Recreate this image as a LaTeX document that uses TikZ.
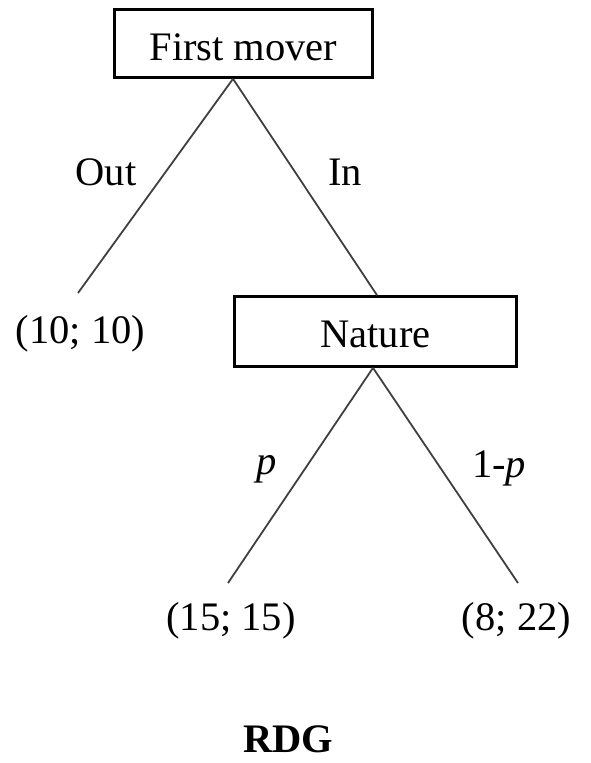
\documentclass[tikz,border=0pt]{standalone}
\usepackage{fontspec}
\setmainfont{Liberation Serif}
\begin{document}
\begin{tikzpicture}[x=1pt,y=-1pt,
  box/.style={draw=black, line width=2.7pt, rectangle, inner sep=0pt, font=\fontsize{40.5}{48}\selectfont},
  lbl/.style={inner sep=0pt, anchor=base, font=\fontsize{40.5}{48}\selectfont},
  edge/.style={draw=black!75, line width=1.8pt}]
\useasboundingbox[fill=white] (0,0) rectangle (590,763);
\node[box, minimum width=258pt, minimum height=68pt, text height=33pt, text depth=0pt] (fm) at (243.5,43.5) {First mover};
\node[box, minimum width=282pt, minimum height=70pt, text height=31pt, text depth=0pt] (nat) at (375.5,331.5) {Nature};
\node[lbl] (o1) at (80.5,343) {(10; 10)};
\node[lbl] (o2) at (231,630) {(15; 15)};
\node[lbl] (o3) at (516.5,630) {(8; 22)};
\node[lbl] (out) at (106,185) {Out};
\node[lbl] (in) at (345,185) {In};
\node[lbl] (p) at (267,474) {\itshape p};
\node[lbl] (q) at (499,477) {1-\textit{p}};
\node[lbl, font=\fontsize{40.5}{48}\selectfont\bfseries] (title) at (288,752) {RDG};
\coordinate (a1) at ([xshift=-10.5pt]fm.south);
\coordinate (e1) at (78,293);
\coordinate (a2) at ([xshift=-2.5pt]nat.south);
\coordinate (e2) at (228,583);
\coordinate (e3) at (518,583);
\draw[edge] (a1) -- (e1);
\draw[edge] (a1) -- ([xshift=1.5pt]nat.north);
\draw[edge] (a2) -- (e2);
\draw[edge] (a2) -- (e3);
\end{tikzpicture}
\end{document}
